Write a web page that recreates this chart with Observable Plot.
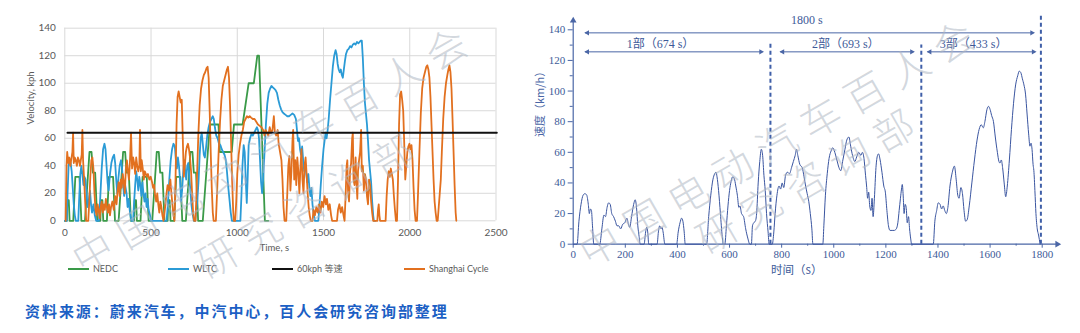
<!DOCTYPE html>
<html><head><meta charset="utf-8">
<script src="https://cdn.jsdelivr.net/npm/d3@7"></script>
<script src="https://cdn.jsdelivr.net/npm/@observablehq/plot@0.6"></script>
<style>
html,body{margin:0;padding:0;background:#fff}
body{width:1080px;height:333px;position:relative;overflow:hidden;font-family:Lato,"Open Sans",sans-serif}
#left{position:absolute;left:0;top:0}
#right{position:absolute;left:520px;top:0}
.lg{position:absolute;top:263px;font:9px Lato,"Noto Sans CJK SC",sans-serif;color:#595959;white-space:nowrap;line-height:11px}
.lg i{display:inline-block;width:21px;height:2px;vertical-align:middle;margin-right:4px;position:relative;top:-1px}
#caption{position:absolute;left:25px;top:300px;color:#1c5fc4;font:700 15px "Noto Sans CJK SC",sans-serif;letter-spacing:1.95px;white-space:nowrap}
#wm{position:absolute;left:0;top:0;width:1080px;height:333px;pointer-events:none}
</style></head>
<body>
<div id="left"></div>
<div id="right"></div>
<div id="legend"></div>
<div id="caption"></div>
<svg id="wm" width="1080" height="333"></svg>
<script>
// ---------- left chart data (time s, speed kph) ----------
const leftXTicks = [0, 500, 1000, 1500, 2000, 2500];
const leftYTicks = [0, 20, 40, 60, 80, 100, 120, 140];
const seriesNames = ["NEDC", "WLTC", "60kph 等速", "Shanghai Cycle"];
const seriesColors = ["#3a9a48", "#2b9bd6", "#111111", "#e2701f"];

const nedc = [[0,0],[11,0],[15,15],[23,15],[28,0],[49,0],[61,32],[85,32],[96,0],[117,0],[143,50],[155,50],[163,35],[176,35],[188,0],
[206,0],[210,15],[218,15],[223,0],[244,0],[256,32],[280,32],[291,0],[312,0],[338,50],[350,50],[358,35],[371,35],[383,0],
[401,0],[405,15],[413,15],[418,0],[439,0],[451,32],[475,32],[486,0],[507,0],[533,50],[545,50],[553,35],[566,35],[578,0],
[596,0],[600,15],[608,15],[613,0],[634,0],[646,32],[670,32],[681,0],[702,0],[728,50],[740,50],[748,35],[761,35],[773,0],
[800,0],[841,70],[891,70],[899,50],[968,50],[981,70],[1031,70],[1066,100],[1096,100],[1116,120],[1126,120],[1160,0],[1180,0]];

const wltc = [[0,0],[12,0],[16,20],[22,40],[28,45],[34,42],[40,36],[46,24],[52,12],[58,4],[64,0],
[78,0],[84,18],[90,34],[96,40],[102,34],[108,26],[114,32],[120,30],[126,20],[132,10],[138,14],[146,22],[152,12],[158,6],[166,12],[174,4],[182,0],
[198,0],[206,18],[214,38],[222,52],[230,56],[236,52],[242,40],[248,28],[254,22],[262,34],[270,42],[278,46],[286,48],[292,42],[298,30],[304,20],[310,30],[318,40],[326,44],[332,38],[338,26],[344,18],[350,26],[358,20],[364,10],[370,16],[378,6],[386,0],
[396,0],[402,14],[408,26],[414,36],[420,30],[426,22],[432,32],[438,26],[444,18],[450,28],[456,20],[462,14],[468,20],[474,10],[480,16],[486,8],[494,4],[500,0],
[590,0],[598,12],[606,30],[614,44],[622,52],[630,56],[638,54],[644,44],[650,38],[656,46],[662,40],[668,30],[674,14],[680,22],[686,34],[692,44],[698,36],[704,30],[710,40],[716,42],[722,32],[728,22],[734,12],[740,6],[748,0],[756,0],[762,8],[768,14],[776,30],[782,48],[788,60],[794,64],[800,56],[806,48],[812,46],[818,52],[826,62],[834,68],[842,72],[850,74],[858,76],[864,74],[870,68],[878,62],[886,60],[894,56],[902,55],[910,52],[918,50],[926,48],[934,44],[940,36],[948,24],[956,14],[962,6],[969,0],
[1018,0],[1024,18],[1030,40],[1037,55],[1043,50],[1049,30],[1055,13],[1060,30],[1066,55],[1074,60],[1082,63],[1090,62],[1098,64],[1106,66],[1114,68],[1120,66],[1126,60],[1132,44],[1138,28],[1144,20],[1150,30],[1158,50],[1166,70],[1174,85],[1182,93],[1190,96],[1198,98],[1206,97],[1214,96],[1222,95],[1230,93],[1238,88],[1246,84],[1254,81],[1262,79],[1270,78],[1280,77],[1290,76],[1300,76],[1310,77],[1320,78],[1330,77],[1340,74],[1346,66],[1352,58],[1358,60],[1364,52],[1370,48],[1376,54],[1382,44],[1388,36],[1394,42],[1400,34],[1406,28],[1412,34],[1418,24],[1424,18],[1430,24],[1436,12],[1442,6],[1450,0],[1470,0],
[1476,10],[1484,26],[1492,40],[1500,52],[1506,58],[1512,64],[1518,60],[1524,66],[1530,74],[1538,88],[1546,100],[1554,112],[1562,120],[1570,124],[1576,121],[1582,114],[1588,110],[1594,108],[1600,110],[1606,106],[1612,104],[1618,110],[1624,116],[1630,121],[1638,124],[1646,125],[1654,127],[1662,126],[1670,128],[1678,129],[1686,128],[1694,130],[1702,129],[1710,130],[1716,131],[1722,131],[1728,118],[1734,100],[1740,86],[1746,78],[1752,70],[1758,58],[1764,44],[1770,36],[1776,28],[1782,14],[1788,4],[1792,0],[1800,0]];

const constantSpeed = [[15,64],[2505,64]];

const shanghai = [[5,0],[10,40],[14,50],[20,42],[26,46],[32,40],[38,45],[44,50],[48,64],[52,42],[58,46],[64,44],[70,40],[76,46],[82,44],[88,40],[94,45],[98,48],[102,66],[106,44],[112,30],[118,14],[124,0],[136,0],[142,14],[148,32],[154,44],[160,46],[166,38],[172,20],[178,8],[184,4],[190,12],[196,8],[202,2],[208,10],[214,14],[220,6],[226,12],[232,8],[238,16],[244,10],[250,6],[256,12],[262,4],[268,10],[276,14],[284,8],[292,18],[300,12],[306,22],[312,28],[318,18],[324,30],[330,24],[336,34],[342,28],[348,20],[354,38],[360,44],[366,36],[372,30],[378,44],[384,64],[390,38],[396,46],[402,42],[408,34],[414,46],[420,40],[426,36],[432,40],[436,66],[441,36],[446,44],[452,38],[458,30],[464,36],[470,34],[476,32],[482,34],[490,30],[498,32],[506,28],[512,24],[518,26],[524,18],[530,14],[536,20],[542,12],[548,6],[554,14],[560,10],[566,4],[572,0],[580,8],[588,18],[596,26],[604,22],[612,30],[618,20],[624,12],[630,4],[636,0],[642,30],[648,70],[654,90],[660,94],[666,90],[672,86],[678,88],[684,60],[690,32],[696,40],[702,50],[708,54],[714,56],[720,52],[726,46],[732,36],[738,20],[744,6],[750,0],[758,0],[766,30],[774,62],[782,84],[790,96],[798,102],[806,106],[814,108],[822,111],[828,112],[834,104],[840,80],[846,50],[852,24],[858,6],[863,0],[876,0],[884,24],[892,50],[900,72],[908,88],[916,98],[924,102],[932,106],[940,110],[946,112],[952,104],[958,84],[964,58],[970,30],[976,8],[980,0],[988,0],[994,14],[1000,34],[1008,48],[1016,56],[1024,62],[1032,66],[1040,72],[1048,74],[1056,76],[1064,75],[1072,76],[1080,75],[1090,74],[1100,74],[1110,72],[1120,70],[1130,69],[1140,68],[1150,66],[1158,62],[1164,66],[1172,64],[1180,62],[1188,68],[1196,64],[1204,66],[1212,76],[1218,64],[1226,62],[1234,66],[1240,56],[1248,50],[1256,44],[1262,30],[1268,10],[1274,0],[1284,0],[1290,20],[1296,40],[1302,47],[1308,22],[1314,36],[1320,58],[1324,66],[1330,30],[1336,44],[1342,26],[1348,46],[1354,36],[1360,20],[1366,38],[1372,52],[1378,30],[1384,20],[1390,40],[1396,46],[1402,34],[1408,20],[1414,10],[1420,4],[1426,0],[1436,0],[1442,8],[1450,4],[1458,10],[1466,6],[1474,12],[1482,6],[1490,14],[1498,10],[1506,18],[1514,12],[1520,16],[1528,8],[1536,12],[1544,4],[1550,0],[1578,0],[1584,8],[1592,12],[1600,6],[1608,10],[1616,4],[1622,0],[1628,18],[1634,40],[1638,44],[1642,22],[1648,14],[1654,36],[1660,42],[1666,60],[1670,64],[1674,30],[1680,26],[1686,46],[1690,30],[1696,16],[1700,36],[1706,44],[1712,50],[1718,66],[1722,36],[1728,40],[1734,22],[1740,34],[1746,30],[1752,18],[1758,12],[1764,30],[1770,26],[1776,14],[1782,6],[1788,0],[1812,0],[1816,8],[1820,12],[1824,4],[1828,0],[1860,0],[1866,18],[1872,30],[1878,36],[1884,32],[1890,38],[1896,34],[1902,30],[1908,18],[1914,8],[1920,0],[1926,0],[1932,30],[1938,70],[1944,92],[1950,94],[1956,88],[1962,80],[1968,56],[1974,30],[1980,40],[1986,50],[1992,54],[1998,56],[2004,52],[2010,55],[2016,44],[2022,24],[2028,8],[2034,0],[2042,0],[2048,20],[2056,50],[2064,78],[2072,96],[2080,104],[2088,108],[2096,112],[2102,113],[2108,110],[2114,104],[2120,90],[2126,70],[2132,50],[2138,30],[2144,14],[2150,6],[2156,0],[2162,0],[2168,10],[2174,20],[2180,30],[2186,50],[2194,74],[2202,90],[2210,100],[2218,106],[2224,110],[2230,113],[2236,108],[2242,96],[2248,74],[2254,50],[2260,26],[2266,6],[2270,0]];

// ---------- right chart data (CLTC-P, time s, speed km/h) ----------
const rightXTicks = [0, 200, 400, 600, 800, 1000, 1200, 1400, 1600, 1800];
const rightXMinor = [100, 300, 500, 700, 900, 1100, 1300, 1500, 1700];
const rightYTicks = [0, 20, 40, 60, 80, 100, 120, 140];
const rightYMinor = [10, 30, 50, 70, 90, 110, 130];
const cltc = [[0,0],[15,0],[22,15],[30,26],[38,32],[45,33],[52,32],[58,26],[62,20],[66,23],[70,22],[74,12],[79,0],
[102,0],[110,10],[118,19],[124,18],[130,24],[136,27],[142,26],[148,20],[155,18],[162,15],[168,12],[175,12],[182,10],[190,13],[198,14],[206,17],[212,13],[217,11],[224,18],[232,26],[238,29],[243,24],[248,12],[253,5],[257,0],
[272,0],[278,8],[282,11],[286,8],[290,0],
[322,0],[327,8],[332,12],[337,10],[341,11],[345,8],[352,0],
[397,0],[403,8],[410,14],[416,17],[421,15],[426,8],[430,0],
[512,0],[520,18],[528,32],[536,42],[543,46],[548,47],[552,44],[558,35],[565,20],[572,5],[576,0],
[582,0],[588,12],[594,25],[600,35],[606,41],[612,44],[618,43],[624,38],[630,32],[636,24],[640,25],[646,20],[654,18],[662,10],[670,4],[678,0],
[684,0],[688,12],[693,14],[699,15],[704,20],[710,40],[716,54],[722,62],[727,58],[732,45],[737,35],[742,20],[748,8],[752,0],
[764,0],[770,8],[775,20],[782,32],[790,38],[796,36],[802,40],[808,37],[815,45],[822,47],[830,46],[838,50],[845,54],[852,58],[857,62],[862,58],[870,52],[879,50],[886,44],[892,38],[898,33],[904,28],[910,20],[916,10],[920,0],
[958,0],[962,12],[968,32],[975,46],[982,56],[990,61],[996,63],[1004,60],[1012,55],[1020,50],[1027,48],[1035,55],[1043,62],[1050,68],[1058,70],[1065,64],[1072,58],[1081,54],[1088,57],[1096,60],[1104,58],[1110,60],[1116,56],[1122,45],[1126,38],[1130,30],[1134,34],[1138,25],[1143,22],[1147,30],[1151,18],[1156,30],[1162,50],[1168,58],[1172,59],[1178,55],[1185,47],[1192,38],[1198,34],[1204,22],[1210,12],[1216,9],[1224,9],[1232,9],[1240,10],[1246,14],[1251,22],[1256,30],[1260,36],[1263,39],[1267,30],[1270,20],[1274,26],[1278,24],[1282,14],[1287,18],[1291,10],[1295,4],[1299,0],
[1382,0],[1388,15],[1395,22],[1401,27],[1408,26],[1414,23],[1420,25],[1426,22],[1432,20],[1438,24],[1446,38],[1455,47],[1463,51],[1470,42],[1476,32],[1481,30],[1488,37],[1494,33],[1500,22],[1506,15],[1512,16],[1520,25],[1530,40],[1540,55],[1550,68],[1558,75],[1566,78],[1574,76],[1580,80],[1588,88],[1594,90],[1600,88],[1606,84],[1613,80],[1620,70],[1628,60],[1634,54],[1638,53],[1643,55],[1648,50],[1654,40],[1660,31],[1666,38],[1674,55],[1682,75],[1690,92],[1698,104],[1706,110],[1712,113],[1718,112],[1724,108],[1730,104],[1736,98],[1742,85],[1748,72],[1753,64],[1757,66],[1761,62],[1765,52],[1768,48],[1772,35],[1776,20],[1781,10],[1786,6],[1792,0]];

const partBoundaries = [757, 1336, 1795];
const partBoundaryTop = [131, 130, 150];
const spanLabels = ["1800 s", "1部（674 s）", "2部（693 s）", "3部（433 s）"];
const spanStart = [47, 47, 796, 1361];
const spanEnd = [1768, 728, 1307, 1774];
const spanSpeed = [138, 125.6, 125.6, 125.6];
const spanLabelTime = [897, 335, 1046, 1537];
const spanLabelSpeed = [146.3, 130.6, 130.6, 130.6];

const captionText = "资料来源：蔚来汽车，中汽中心，百人会研究咨询部整理";
const watermarkLines = ["中国电动汽车百人会", "研究咨询部"];

// ---------- left chart ----------
const X = d => d[0], Y = d => d[1];
const leftPlot = Plot.plot({
  width: 510, height: 260,
  marginLeft: 64.3, marginRight: 14.5, marginTop: 27.7, marginBottom: 39.7,
  style: {fontFamily: "Lato, 'Open Sans', sans-serif", fontSize: "10px", color: "#595959", background: "none", overflow: "visible"},
  x: {domain: [0, 2500]},
  y: {domain: [0, 140]},
  marks: [
    Plot.gridX(leftXTicks, {stroke: "#d9d9d9", strokeOpacity: 1}),
    Plot.gridY(leftYTicks, {stroke: "#d9d9d9", strokeOpacity: 1}),
    Plot.axisX(leftXTicks, {tickSize: 0, tickPadding: 8, label: null, tickFormat: "d", color: "#595959"}),
    Plot.axisY(leftYTicks, {tickSize: 0, tickPadding: 9, label: null, tickFormat: "d", color: "#595959"}),
    Plot.text(["Velocity, kph"], {frameAnchor: "left", dx: -34, rotate: -90, text: d => d, fontSize: 9.5, fill: "#595959"}),
    Plot.text(["Time, s"], {frameAnchor: "bottom", dx: -6, dy: 30, text: d => d, fontSize: 9.5, fill: "#595959"}),
    Plot.line(nedc, {x: X, y: Y, stroke: seriesColors[0], strokeWidth: 1.8}),
    Plot.line(wltc, {x: X, y: Y, stroke: seriesColors[1], strokeWidth: 1.8}),
    Plot.line(shanghai, {x: X, y: Y, stroke: seriesColors[3], strokeWidth: 1.8}),
    Plot.line(constantSpeed, {x: X, y: Y, stroke: seriesColors[2], strokeWidth: 1.8})
  ]
});
document.getElementById("left").append(leftPlot);

// ---------- right chart ----------
const axisBlue = "#4a66a6";
const spans = spanLabels.map((label, i) => ({label, x1: spanStart[i], x2: spanEnd[i], y: spanSpeed[i], lx: spanLabelTime[i], ly: spanLabelSpeed[i]}));
const bounds = partBoundaries.map((t, i) => ({t, top: partBoundaryTop[i]}));
const rightPlot = Plot.plot({
  width: 560, height: 280,
  marginLeft: 52.7, marginRight: 38.3, marginTop: 29.3, marginBottom: 36.3,
  style: {fontFamily: "'Liberation Serif', 'DejaVu Serif', serif", fontSize: "11px", color: "#3d5a98", background: "none", overflow: "visible"},
  x: {domain: [0, 1800]},
  y: {domain: [0, 140]},
  marks: [
    Plot.axisX(rightXTicks, {tickSize: 4, tickPadding: 2, label: null, tickFormat: "d", color: "#3d5a98", stroke: axisBlue}),
    Plot.axisX(rightXMinor, {tickSize: 2, text: null, label: null, stroke: axisBlue}),
    Plot.axisY(rightYTicks, {tickSize: 5, tickPadding: 3, label: null, tickFormat: "d", color: "#3d5a98", stroke: axisBlue}),
    Plot.axisY(rightYMinor, {tickSize: 3, text: null, label: null, stroke: axisBlue}),
    Plot.ruleY([0], {x1: 0, x2: 1858, stroke: axisBlue, strokeWidth: 1.2}),
    Plot.ruleX([0], {y1: 0, y2: 146, stroke: axisBlue, strokeWidth: 1.2}),
    Plot.dot([[1858, 0]], {x: X, y: Y, symbol: "triangle2", r: 3.2, rotate: 90, fill: axisBlue}),
    Plot.dot([[0, 146]], {x: X, y: Y, symbol: "triangle2", r: 3.2, rotate: 0, fill: axisBlue}),
    Plot.text(["速度（km/h）"], {frameAnchor: "left", dx: -33, rotate: -90, text: d => d, fontSize: 11, fontFamily: "'Noto Sans CJK SC', sans-serif", fill: "#4a66a6"}),
    Plot.text(["时间（s）"], {frameAnchor: "bottom", dx: -11, dy: 30, text: d => d, fontSize: 11.5, fontFamily: "'Noto Sans CJK SC', sans-serif", fill: "#3d5a98"}),
    Plot.ruleX(bounds, {x: "t", y1: 0, y2: "top", stroke: "#3f5fa8", strokeWidth: 2, strokeDasharray: "4,3"}),
    Plot.ruleY(spans, {y: "y", x1: "x1", x2: "x2", stroke: "#4a66a6", strokeWidth: 1}),
    Plot.dot(spans, {x: "x1", y: "y", symbol: "triangle2", r: 2.6, rotate: -90, fill: "#4a66a6", dx: 2}),
    Plot.dot(spans, {x: "x2", y: "y", symbol: "triangle2", r: 2.6, rotate: 90, fill: "#4a66a6", dx: -2}),
    Plot.text(spans, {x: "lx", y: "ly", text: "label", fontSize: 12, fill: "#3d5a98", fontFamily: "'Liberation Serif', 'Noto Sans CJK SC', serif"}),
    Plot.line(cltc, {x: X, y: Y, stroke: "#3a55a0", strokeWidth: 1, curve: "monotone-x"})
  ]
});
document.getElementById("right").append(rightPlot);

// ---------- legend ----------
const legendX = [68, 168, 272, 404];
const legend = document.getElementById("legend");
seriesNames.forEach((name, i) => {
  const d = document.createElement("div");
  d.className = "lg";
  d.style.left = legendX[i] + "px";
  d.innerHTML = `<i style="background:${seriesColors[i]}"></i>${name}`;
  legend.append(d);
});
document.getElementById("caption").textContent = captionText;

// ---------- watermark (faint diagonal text, drawn as SVG) ----------
const wmPos = [[93, 253, 0], [217, 258, 1], [600, 246, 0], [717, 233, 1]];
const wm = d3.select("#wm");
wmPos.forEach(([cx, cy, k]) => {
  wm.append("text")
    .attr("transform", `translate(${cx},${cy}) rotate(-30)`)
    .attr("x", -20).attr("dy", "0.36em")
    .attr("font-family", "'Noto Sans CJK SC', sans-serif")
    .attr("font-weight", 300)
    .attr("font-size", 40)
    .attr("letter-spacing", 11)
    .attr("fill", "#aeb6c2")
    .attr("fill-opacity", 0.55)
    .text(watermarkLines[k]);
});
</script>
</body></html>
